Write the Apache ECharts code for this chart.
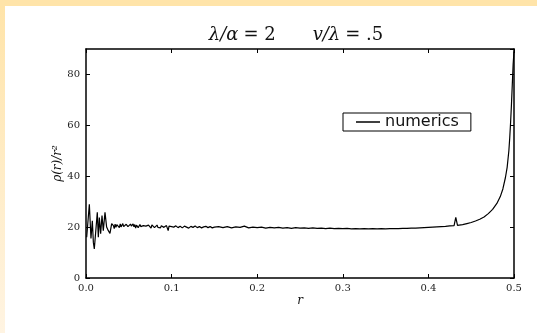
<!DOCTYPE html>
<html>
<head>
<meta charset="utf-8">
<script src="https://cdn.jsdelivr.net/npm/echarts@6/dist/echarts.min.js"></script>
<style>
  html, body { margin: 0; padding: 0; background: #fff; }
  #echarts_main { width: 537px; height: 333px; }
</style>
</head>
<body>
<div id="echarts_main"></div>
<script>
// radius samples and rho(r)/r^2
const rValues = [
  0.0008, 0.0039, 0.0058, 0.0074, 0.0086, 0.0097, 0.0113, 0.0132, 0.0144, 0.0156,
  0.0171, 0.0187, 0.0202, 0.0222, 0.0241, 0.0261, 0.028, 0.030, 0.032,
  0.033, 0.034, 0.035, 0.036, 0.037, 0.038, 0.039, 0.040, 0.041, 0.042,
  0.043, 0.044, 0.045, 0.046, 0.047, 0.048, 0.049, 0.050, 0.051, 0.052,
  0.053, 0.054, 0.055, 0.056, 0.057, 0.058, 0.059, 0.060, 0.061, 0.062,
  0.063, 0.064, 0.065, 0.066, 0.067, 0.068, 0.069, 0.070, 0.071, 0.072,
  0.073, 0.074, 0.075, 0.076, 0.077, 0.078, 0.079, 0.080, 0.081, 0.082,
  0.083, 0.084, 0.085, 0.086, 0.087, 0.088, 0.089, 0.090, 0.091, 0.092,
  0.093, 0.094, 0.095, 0.096, 0.097, 0.098, 0.099, 0.100,
  0.1025, 0.105, 0.1075, 0.110, 0.1125, 0.115, 0.1175, 0.120, 0.1225, 0.125,
  0.1275, 0.130, 0.1325, 0.135, 0.1375, 0.140, 0.1425, 0.145, 0.1475, 0.150,
  0.155, 0.160, 0.165, 0.170, 0.175, 0.180, 0.185, 0.190, 0.195, 0.200,
  0.205, 0.210, 0.215, 0.220, 0.225, 0.230, 0.235, 0.240, 0.245, 0.250,
  0.255, 0.260, 0.265, 0.270, 0.275, 0.280, 0.285, 0.290, 0.295, 0.300,
  0.305, 0.310, 0.315, 0.320, 0.325, 0.330, 0.335, 0.340, 0.345, 0.350,
  0.355, 0.360, 0.365, 0.370, 0.375, 0.380, 0.385, 0.390, 0.395, 0.400,
  0.405, 0.410, 0.415, 0.420, 0.425, 0.430, 0.432, 0.434,
  0.440, 0.445, 0.450, 0.455, 0.460, 0.465, 0.470, 0.475, 0.480, 0.484,
  0.487, 0.490, 0.492, 0.494, 0.495, 0.496, 0.497, 0.498, 0.499, 0.500
]
const rhoValues = [
  16.0, 29.0, 15.5, 22.5, 14.0, 11.4, 18.0, 25.8, 16.0, 23.8,
  17.4, 24.5, 18.6, 25.8, 20.0, 18.6, 17.5, 21.4, 20.6,
  19.4, 21.2, 19.9, 21.0, 20.3, 21.6, 19.8, 21.3, 20.1, 20.0,
  21.4, 20.2, 20.9, 19.6, 21.1, 21.8, 20.2, 20.9, 19.7, 21.2,
  20.4, 19.9, 21.3, 20.1, 21.0, 19.6, 20.8, 20.5, 19.8, 19.3,
  21.0, 20.2, 20.9, 19.8, 20.6, 21.1, 19.9, 20.4, 20.9, 19.7,
  20.8, 20.1, 20.6, 19.6, 20.9, 20.2, 20.7, 19.8, 20.5, 20.1,
  20.8, 19.9, 20.4, 20.6, 19.7, 20.5, 20.0, 20.7, 19.9, 20.3,
  19.6, 20.6, 20.0, 18.6, 20.4, 19.8, 20.5, 20.2,
  20.0, 20.5, 19.8, 20.3, 19.7, 20.4, 20.0, 19.6, 20.3, 19.9,
  20.4, 19.8, 20.2, 19.7, 20.1, 20.3, 19.8, 20.2, 19.7, 20.0,
  20.2, 19.8, 20.2, 19.7, 20.1, 19.9, 20.4, 19.7, 20.0, 19.8,
  20.0, 19.6, 19.9, 19.7, 19.9, 19.6, 19.8, 19.5, 19.8, 19.6,
  19.7, 19.5, 19.7, 19.5, 19.6, 19.4, 19.6, 19.4, 19.5, 19.4,
  19.5, 19.3, 19.4, 19.3, 19.4, 19.3, 19.4, 19.3, 19.4, 19.3,
  19.4, 19.4, 19.4, 19.5, 19.5, 19.6, 19.6, 19.7, 19.8, 19.9,
  20.0, 20.1, 20.2, 20.3, 20.5, 20.6, 23.8, 20.7,
  21.0, 21.4, 21.8, 22.4, 23.1, 24.0, 25.3, 27.0, 29.3, 32.0,
  35.0, 39.5, 43.5, 50.0, 55.0, 61.0, 68.0, 76.0, 84.0, 89.0
]
const seriesName = 'numerics'
const xTicks = [0, 0.1, 0.2, 0.3, 0.4, 0.5]
const yTicks = [0, 20, 40, 60, 80]

const chart = echarts.init(document.getElementById('echarts_main'))

const serif = 'DejaVu Serif'
const points = rValues.map((r, i) => [r, rhoValues[i]])

const axisLine = { show: true, onZero: false, lineStyle: { color: '#000', width: 1.5 } }
const tick = { show: true, inside: true, length: 4, lineStyle: { color: '#000', width: 1 } }

const option = {
    animation: false,
    backgroundColor: '#fff',
    graphic: [
        { type: 'rect', left: 0, top: 0, shape: { width: 537, height: 6 }, style: { fill: '#ffe4a9' }, silent: true },
        {
            type: 'rect', left: 0, top: 6, shape: { width: 5, height: 327 }, silent: true,
            style: {
                fill: {
                    type: 'linear', x: 0, y: 0, x2: 0, y2: 1,
                    colorStops: [{ offset: 0, color: '#ffe4a9' }, { offset: 1, color: '#fff4e2' }]
                }
            }
        }
    ],
    title: {
        text: '{i|λ/α} {n|= 2}{s|}{i|v/λ} {n|= .5}',
        left: 291,
        top: 21,
        textAlign: 'center',
        textStyle: {
            fontWeight: 'normal',
            rich: {
                i: { fontFamily: serif, fontStyle: 'italic', fontWeight: 'normal', fontSize: 18, color: '#111' },
                n: { fontFamily: serif, fontWeight: 'normal', fontSize: 18, color: '#111' },
                s: { width: 37 }
            }
        }
    },
    legend: {
        data: [seriesName],
        left: 343,
        top: 113,
        icon: 'rect',
        itemWidth: 24,
        itemHeight: 1.5,
        padding: [1, 12, 1, 13],
        borderColor: '#000',
        borderWidth: 1,
        borderRadius: 0,
        backgroundColor: '#fff',
        textStyle: { fontFamily: 'DejaVu Sans', fontSize: 16, lineHeight: 16, color: '#111' }
    },
    grid: { left: 86, right: 23, top: 49, bottom: 55 },
    xAxis: [
        {
            type: 'value', min: xTicks[0], max: xTicks[xTicks.length - 1], interval: 0.1,
            name: 'r', nameLocation: 'middle', nameGap: 17, nameMoveOverlap: false,
            nameTextStyle: { fontFamily: serif, fontStyle: 'italic', fontSize: 12, color: '#111' },
            axisLine, axisTick: tick, splitLine: { show: false },
            axisLabel: { fontFamily: serif, fontSize: 10, color: '#222', margin: 5, formatter: v => v.toFixed(1) }
        },
        {
            type: 'value', position: 'top', min: xTicks[0], max: xTicks[xTicks.length - 1], interval: 0.1,
            axisLine, axisTick: tick, splitLine: { show: false }, axisLabel: { show: false }
        }
    ],
    yAxis: [
        {
            type: 'value', min: yTicks[0], max: 90, interval: 20,
            name: 'ρ(r)/r²', nameLocation: 'middle', nameGap: 22, nameRotate: 90, nameMoveOverlap: false,
            nameTextStyle: { fontFamily: serif, fontStyle: 'italic', fontSize: 12, color: '#111' },
            axisLine, axisTick: tick, splitLine: { show: false },
            axisLabel: { fontFamily: serif, fontSize: 10, color: '#222', margin: 6, showMaxLabel: false }
        },
        {
            type: 'value', position: 'right', min: yTicks[0], max: 90, interval: 20,
            axisLine, axisTick: tick, splitLine: { show: false }, axisLabel: { show: false }
        }
    ],
    series: [
        {
            name: seriesName,
            type: 'line',
            data: points,
            showSymbol: false,
            symbol: 'none',
            color: '#000',
            lineStyle: { color: '#000', width: 1.2 },
            clip: true
        }
    ]
}

chart.setOption(option)
</script>
</body>
</html>
